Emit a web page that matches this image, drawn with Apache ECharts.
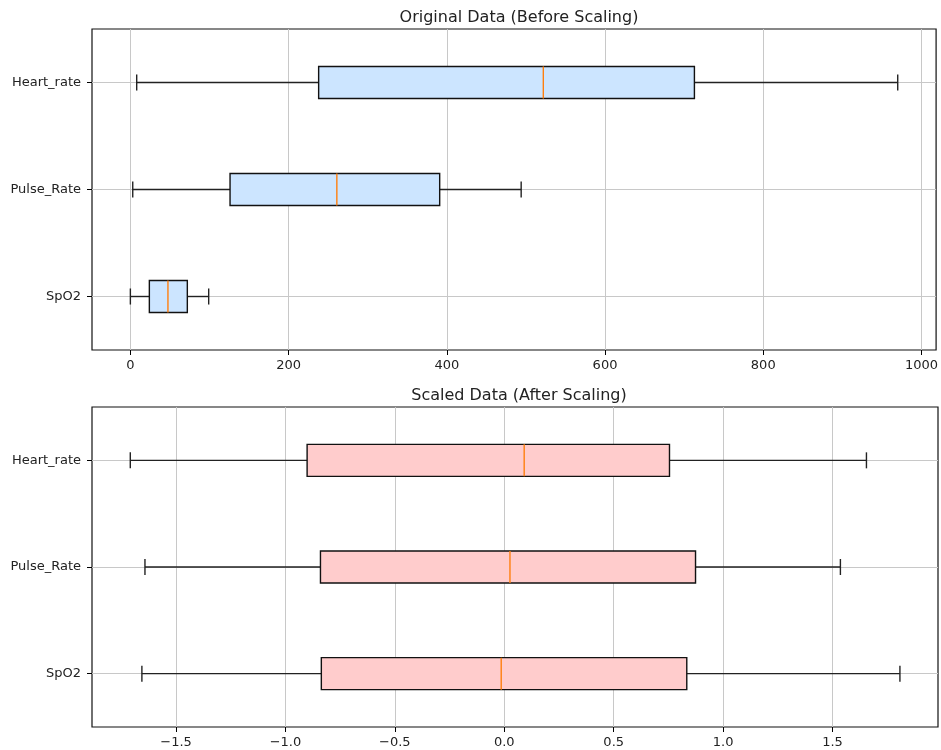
<!DOCTYPE html>
<html>
<head>
<meta charset="utf-8">
<script src="https://cdn.jsdelivr.net/npm/echarts@6/dist/echarts.min.js"></script>
<style>
  html, body { margin: 0; padding: 0; background: #fff; }
  #chart { width: 941px; height: 750px; }
</style>
</head>
<body>
<div id="chart"></div>
<script>
// box stats: [min, q1, median, q3, max], top to bottom
const categories = ['Heart_rate', 'Pulse_Rate', 'SpO2']
const originalStats = [
  [8, 238, 522, 713, 970],
  [3, 126, 261, 391, 494],
  [0, 24, 47.5, 72, 99]
]
const scaledStats = [
  [-1.709, -0.901, 0.091, 0.755, 1.655],
  [-1.642, -0.840, 0.026, 0.874, 1.536],
  [-1.656, -0.836, -0.014, 0.834, 1.808]
]
const originalTicks = [0, 200, 400, 600, 800, 1000]
const scaledTicks = [-1.5, -1.0, -0.5, 0.0, 0.5, 1.0, 1.5]
const catPositions = [1, 2, 3]

const font = 'DejaVu Sans'

function toRows (stats) {
  return stats.map(function (s, i) { return [catPositions[i]].concat(s) })
}

function boxRenderer (fill) {
  return function (params, api) {
    const pos = api.value(0)
    const lo = api.coord([api.value(1), pos])
    const q1 = api.coord([api.value(2), pos])
    const med = api.coord([api.value(3), pos])
    const q3 = api.coord([api.value(4), pos])
    const hi = api.coord([api.value(5), pos])
    const half = api.size([0, 0.15])[1]
    const cap = half / 2
    const y = lo[1]
    const line = { stroke: '#222', lineWidth: 1.4 }
    return {
      type: 'group',
      children: [
        { type: 'line', shape: { x1: lo[0], y1: y, x2: q1[0], y2: y }, style: line },
        { type: 'line', shape: { x1: q3[0], y1: y, x2: hi[0], y2: y }, style: line },
        { type: 'line', shape: { x1: lo[0], y1: y - cap, x2: lo[0], y2: y + cap }, style: line },
        { type: 'line', shape: { x1: hi[0], y1: y - cap, x2: hi[0], y2: y + cap }, style: line },
        {
          type: 'rect',
          shape: { x: q1[0], y: y - half, width: q3[0] - q1[0], height: half * 2 },
          style: { fill: fill, stroke: '#111', lineWidth: 1.4 }
        },
        { type: 'line', shape: { x1: med[0], y1: y - half, x2: med[0], y2: y + half }, style: { stroke: '#ff7f0e', lineWidth: 1.4 } }
      ]
    }
  }
}

function fmtScaled (v) {
  const s = Math.abs(v).toFixed(1)
  return v < 0 ? '\u2212' + s : s
}

function xAxisFor (gridIndex, min, max, ticks, formatter) {
  return {
    type: 'value',
    gridIndex: gridIndex,
    min: min,
    max: max,
    axisLine: { show: false, onZero: false },
    axisTick: { show: true, customValues: ticks, length: 5, lineStyle: { color: '#000' } },
    axisLabel: { customValues: ticks, color: '#222', fontFamily: font, fontSize: 13, margin: 9, formatter: formatter },
    splitLine: { show: true, lineStyle: { color: '#c8c8c8', width: 1 } }
  }
}

function yAxisFor (gridIndex) {
  return {
    type: 'value',
    gridIndex: gridIndex,
    inverse: true,
    min: 0.5,
    max: 3.5,
    axisLine: { show: false, onZero: false },
    axisTick: { show: true, customValues: catPositions, length: 5, lineStyle: { color: '#000' } },
    axisLabel: {
      customValues: catPositions,
      color: '#222',
      fontFamily: font,
      fontSize: 13,
      margin: 11,
      formatter: function (v) { return categories[Math.round(v) - 1] }
    },
    splitLine: { show: true, lineStyle: { color: '#c8c8c8', width: 1 } }
  }
}

const option = {
  animation: false,
  backgroundColor: '#fff',
  title: [
    { text: 'Original Data (Before Scaling)', left: 514, top: 5, textAlign: 'center', textStyle: { fontFamily: font, fontSize: 16, fontWeight: 'normal', color: '#222' } },
    { text: 'Scaled Data (After Scaling)', left: 514, top: 383, textAlign: 'center', textStyle: { fontFamily: font, fontSize: 16, fontWeight: 'normal', color: '#222' } }
  ],
  grid: [
    { left: 92, right: 3, top: 29, height: 321, show: true, borderColor: '#111', borderWidth: 1.2, backgroundColor: 'transparent' },
    { left: 92, right: 3, top: 407, height: 320, show: true, borderColor: '#111', borderWidth: 1.2, backgroundColor: 'transparent' }
  ],
  xAxis: [
    xAxisFor(0, -48.5, 1018.5, originalTicks, function (v) { return String(v) }),
    xAxisFor(1, -1.884, 1.982, scaledTicks, fmtScaled)
  ],
  yAxis: [yAxisFor(0), yAxisFor(1)],
  series: [
    {
      type: 'custom',
      xAxisIndex: 0,
      yAxisIndex: 0,
      encode: { x: [1, 2, 3, 4, 5], y: 0 },
      renderItem: boxRenderer('#cce5ff'),
      data: toRows(originalStats)
    },
    {
      type: 'custom',
      xAxisIndex: 1,
      yAxisIndex: 1,
      encode: { x: [1, 2, 3, 4, 5], y: 0 },
      renderItem: boxRenderer('#ffcccc'),
      data: toRows(scaledStats)
    }
  ]
}

const chart = echarts.init(document.getElementById('chart'))
chart.setOption(option)
</script>
</body>
</html>
